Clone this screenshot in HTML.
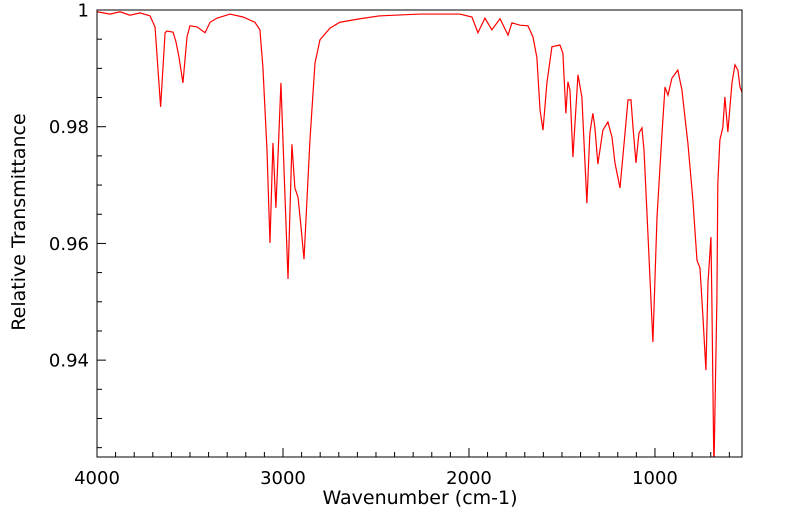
<!DOCTYPE html>
<html><head><meta charset="utf-8"><style>
html,body{margin:0;padding:0;background:#fff;}
svg{display:block;font-family:"DejaVu Sans","Liberation Sans",sans-serif;}
</style></head><body>
<svg id="chart" width="799" height="516"></svg>
<script>
const wavenumbers=[4000,3930,3876,3823,3769,3715,3688,3658,3634,3624,3591,3575,3559,3538,3516,3500,3462,3419,3392,3355,3285,3215,3151,3124,3108,3086,3070,3054,3038,3011,2995,2973,2952,2936,2919,2903,2887,2855,2828,2801,2747,2694,2586,2479,2264,2049,1984,1952,1914,1877,1833,1790,1769,1726,1683,1656,1635,1618,1602,1581,1554,1511,1495,1479,1468,1457,1441,1414,1393,1366,1350,1334,1323,1307,1280,1253,1231,1215,1188,1161,1145,1129,1118,1102,1086,1070,1059,1038,1011,989,962,946,930,909,877,855,839,823,796,774,758,742,726,715,699,694,683,667,662,651,635,624,608,586,570,554,543,532];
const transmittance=[0.9997,0.9993,0.9997,0.9991,0.9995,0.9990,0.9971,0.9834,0.9961,0.9964,0.9962,0.9945,0.9919,0.9875,0.9954,0.9973,0.9971,0.9961,0.9979,0.9986,0.9993,0.9988,0.9979,0.9966,0.9902,0.9760,0.9601,0.9772,0.9661,0.9875,0.9731,0.9539,0.9770,0.9695,0.9679,0.9628,0.9573,0.9777,0.9909,0.9949,0.9969,0.9979,0.9985,0.9990,0.9993,0.9993,0.9988,0.9961,0.9986,0.9966,0.9985,0.9957,0.9978,0.9974,0.9973,0.9954,0.9919,0.9829,0.9794,0.9875,0.9937,0.9940,0.9926,0.9823,0.9877,0.9863,0.9748,0.9889,0.9851,0.9669,0.9789,0.9823,0.9799,0.9736,0.9794,0.9808,0.9782,0.9738,0.9695,0.9789,0.9846,0.9846,0.9799,0.9738,0.9789,0.9798,0.9760,0.9618,0.9431,0.9645,0.9789,0.9868,0.9854,0.9883,0.9897,0.9863,0.9817,0.9772,0.9674,0.9571,0.9558,0.9474,0.9383,0.9532,0.9611,0.9503,0.9212,0.9503,0.9703,0.9777,0.9799,0.9851,0.9791,0.9875,0.9906,0.9897,0.9868,0.9859];
const xTicks=[4000,3000,2000,1000];
const yTicks=[0.94,0.96,0.98,1];
const yTickLabels=["0.94","0.96","0.98","1"];

const L=97,R=742,T=10,B=457;
const xMax=4000,xMin=532,yMax=1,yMin=0.9234;
const sx=v=>L+(xMax-v)/(xMax-xMin)*(R-L);
const sy=v=>T+(yMax-v)/(yMax-yMin)*(B-T);
const NS="http://www.w3.org/2000/svg";
const svg=document.getElementById('chart');
function mk(tag,attrs,parent){const e=document.createElementNS(NS,tag);for(const k in attrs)e.setAttribute(k,attrs[k]);(parent||svg).appendChild(e);return e;}

const defs=mk('defs',{});
const cp=mk('clipPath',{id:'plotclip'},defs);
mk('rect',{x:L,y:T,width:R-L,height:B-T},cp);

let d='';
wavenumbers.forEach((w,i)=>{d+=(i?'L':'M')+sx(w).toFixed(2)+','+sy(transmittance[i]).toFixed(2);});
const line=mk('path',{d:d,fill:'none',stroke:'#ff0000','stroke-width':1.2,'clip-path':'url(#plotclip)'});



const frame=mk('rect',{x:L,y:T,width:R-L,height:B-T,fill:'none',stroke:'#000','stroke-width':1});



for(let w=4000;w>=xMin;w-=100){
  const major=w%1000===0;
  const t=mk('line',{x1:sx(w),x2:sx(w),y1:B,y2:B-(major?9:5),stroke:'#000','stroke-width':1});
  
  
}
xTicks.forEach(w=>{
  const t=mk('text',{x:sx(w),y:B+27,'text-anchor':'middle','font-size':18,fill:'#000'});
  t.textContent=String(w);
  
  
});
for(let i=0;i<=16;i++){
  const v=1-i*0.005;
  if(v<yMin)break;
  const major=i%4===0;
  const t=mk('line',{x1:L,x2:L+(major?9:5),y1:sy(v),y2:sy(v),stroke:'#000','stroke-width':1});
  
  
}
yTicks.forEach((v,i)=>{
  const t=mk('text',{x:L-8,y:sy(v)+6.5,'text-anchor':'end','font-size':18,fill:'#000'});
  t.textContent=yTickLabels[i];
  
  
});
const xt=mk('text',{x:420,y:504,'text-anchor':'middle','font-size':19,fill:'#000'});
xt.textContent='Wavenumber (cm-1)';


const yt=mk('text',{x:0,y:0,'text-anchor':'middle','font-size':19,fill:'#000',transform:'translate(25,222) rotate(-90)'});
yt.textContent='Relative Transmittance';


</script>
</body></html>
